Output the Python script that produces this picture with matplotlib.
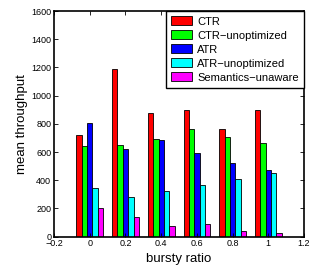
import numpy as np
import matplotlib.pyplot as plt

plt.rcParams['font.family'] = ['Liberation Sans', 'DejaVu Sans']

bursty = [0, 0.2, 0.4, 0.6, 0.8, 1.0]
series_names = ['CTR', 'CTR\u2212unoptimized', 'ATR', 'ATR\u2212unoptimized', 'Semantics\u2212unaware']
ctr = [720, 1190, 875, 895, 765, 895]
ctr_unopt = [640, 648, 690, 765, 705, 667]
atr = [803, 620, 687, 597, 522, 473]
atr_unopt = [347, 284, 326, 364, 411, 452]
sem_unaware = [200, 140, 76, 88, 43, 24]
colors = ['#ff0000', '#00ff00', '#0000ff', '#00ffff', '#ff00ff']

fig = plt.figure(figsize=(3.2, 2.67), dpi=100)
ax = fig.add_axes([0.169, 0.1135, 0.781, 0.845])

x = np.array(bursty)
w = 0.03
all_series = [ctr, ctr_unopt, atr, atr_unopt, sem_unaware]
for i, vals in enumerate(all_series):
    ax.bar(x + (i - 2) * w, vals, width=w, color=colors[i], edgecolor='black',
           linewidth=0.6, label=series_names[i])

ax.set_xlim(-0.2, 1.2)
ax.set_ylim(0, 1600)
ax.set_xticks([-0.2, 0, 0.2, 0.4, 0.6, 0.8, 1.0, 1.2])
ax.set_xticklabels(['\u22120.2', '0', '0.2', '0.4', '0.6', '0.8', '1', '1.2'])
ax.set_yticks(range(0, 1601, 200))
ax.tick_params(direction='in', top=True, right=True, labelsize=6.5, length=3, width=0.6, pad=2)
for s in ax.spines.values():
    s.set_linewidth(1.2)

ax.set_xlabel('bursty ratio', fontsize=9.5, labelpad=3)
ax.set_ylabel('mean throughput', fontsize=9.5, labelpad=2)

leg = ax.legend(loc='upper right', fontsize=8, fancybox=False, framealpha=1,
                borderaxespad=0, handlelength=1.9, handleheight=0.9,
                labelspacing=0.32, handletextpad=0.45, borderpad=0.45)
leg.get_frame().set_edgecolor('black')
leg.get_frame().set_linewidth(1.0)

plt.savefig('out.png', dpi=100)
